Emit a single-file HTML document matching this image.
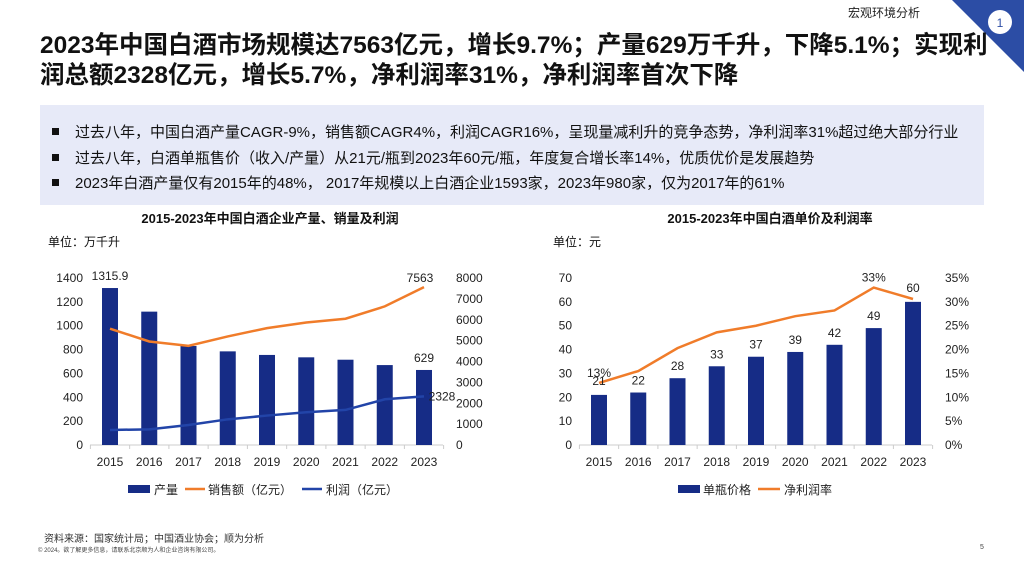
<!DOCTYPE html>
<html><head><meta charset="utf-8"><style>
body{margin:0;width:1024px;height:576px;background:#fff;font-family:"Liberation Sans","Noto Sans CJK SC",sans-serif;position:relative;overflow:hidden;color:#111}
.abs{position:absolute}
h1{position:absolute;left:40px;top:31px;margin:0;font-size:24.5px;line-height:30px;font-weight:bold;width:980px;color:#111;white-space:nowrap}
.box{left:40px;top:105px;width:944px;height:100px;background:#E7EAF8}
.box div{position:absolute;left:12px;font-size:15px;color:#111;white-space:nowrap}
.box span{display:inline-block;width:7px;height:7px;background:#111;margin-right:16px;vertical-align:2px}
</style></head><body>
<div class="abs" style="left:848px;top:4px;font-size:12px;color:#222">宏观环境分析</div>
<svg class="abs" style="left:950px;top:0" width="74" height="74"><polygon points="2,0 74,0 74,72" fill="#2C4DA5"/><circle cx="50" cy="22" r="12" fill="#fff"/><text x="50" y="27" font-size="12" text-anchor="middle" fill="#2C4DA5" font-family="Liberation Sans">1</text></svg>
<h1>2023年中国白酒市场规模达7563亿元，增长9.7%；产量629万千升，下降5.1%；实现利<br>润总额2328亿元，增长5.7%，净利润率31%，净利润率首次下降</h1>
<div class="abs box">
<div style="top:16px"><span></span>过去八年，中国白酒产量CAGR-9%，销售额CAGR4%，利润CAGR16%，呈现量减利升的竞争态势，净利润率31%超过绝大部分行业</div>
<div style="top:42px"><span></span>过去八年，白酒单瓶售价（收入/产量）从21元/瓶到2023年60元/瓶，年度复合增长率14%，优质优价是发展趋势</div>
<div style="top:67px"><span></span>2023年白酒产量仅有2015年的48%， 2017年规模以上白酒企业1593家，2023年980家，仅为2017年的61%</div>
</div>
<div class="abs" style="left:40px;top:208px;width:460px;text-align:center;font-size:13px;font-weight:bold">2015-2023年中国白酒企业产量、销量及利润</div>
<div class="abs" style="left:48px;top:233px;font-size:12px">单位：万千升</div>
<div class="abs" style="left:540px;top:208px;width:460px;text-align:center;font-size:13px;font-weight:bold">2015-2023年中国白酒单价及利润率</div>
<div class="abs" style="left:553px;top:233px;font-size:12px">单位：元</div>
<svg class="abs" id="c" style="left:0;top:0" width="1024" height="576"></svg>
<div class="abs" style="left:44px;top:530px;font-size:10px;color:#333">资料来源：国家统计局；中国酒业协会；顺为分析</div>
<div class="abs" style="left:38px;top:545px;font-size:6px;color:#444">© 2024。欲了解更多信息，请联系北京顺为人和企业咨询有限公司。</div>
<div class="abs" style="left:980px;top:544px;font-size:7px;color:#444">5</div>
<script>
const years=["2015","2016","2017","2018","2019","2020","2021","2022","2023"];
const production=[1315.9,1118,830,785,755,735,715,670,629];
const sales=[5570,4960,4750,5200,5600,5870,6050,6640,7563];
const profit=[720,750,960,1230,1410,1570,1680,2190,2328];
const leftTicks=[0,200,400,600,800,1000,1200,1400];
const rightTicks=[0,1000,2000,3000,4000,5000,6000,7000,8000];
const price=[21,22,28,33,37,39,42,49,60];
const margin=[13,15.5,20.3,23.6,25,27,28.2,33,30.6];
const priceTicks=[0,10,20,30,40,50,60,70];
const marginTicks=[0,5,10,15,20,25,30,35];
const svg=document.getElementById('c');const NS="http://www.w3.org/2000/svg";
function mk(t,a,name){const e=document.createElementNS(NS,t);for(const k in a)e.setAttribute(k,a[k]);


svg.appendChild(e);return e;}
function txt(x,y,s,anchor,name,size){const e=mk('text',{x:x,y:y,'font-size':size||12,'text-anchor':anchor||'middle',fill:'#222','font-family':'Liberation Sans, Noto Sans CJK SC, sans-serif'},name);e.textContent=s;return e;}
const Y0=445,H=167;
function chart(o){
 const xs=i=>o.x0+i*39.25;
 const yl=v=>Y0-v/o.lmax*H, yr=v=>Y0-v/o.rmax*H;
 o.lt.forEach(t=>txt(o.x0-27,yl(t)+4,o.lfmt(t),'end','left-tick'));
 o.rt.forEach(t=>txt(o.x0+346,yr(t)+4,o.rfmt(t),'start','right-tick'));
 mk('line',{x1:o.x0-20,x2:o.x0+333,y1:Y0,y2:Y0,stroke:'#ccc'},'x-axis');
 years.forEach((y,i)=>{txt(xs(i),466,y,'middle','x-tick');mk('line',{x1:xs(i)-19.6,x2:xs(i)-19.6,y1:Y0,y2:Y0+4,stroke:'#ccc'},'x-tick-mark');});
 mk('line',{x1:xs(8)+19.6,x2:xs(8)+19.6,y1:Y0,y2:Y0+4,stroke:'#ccc'},'x-tick-mark');
 o.bars.forEach((v,i)=>mk('rect',{x:xs(i)-8,y:yl(v),width:16,height:Y0-yl(v),fill:'#162C86'},'bar-'+years[i]));
 o.lines.forEach(L=>mk('polyline',{points:L.d.map((v,i)=>xs(i)+','+yr(v)).join(' '),fill:'none',stroke:L.c,'stroke-width':2.5},L.n));
 return {xs,yl,yr};
}
const A=chart({x0:110,lmax:1400,rmax:8000,lt:leftTicks,rt:rightTicks,lfmt:t=>t,rfmt:t=>t,bars:production,
 lines:[{d:sales,c:'#F07C2A',n:'sales-line'},{d:profit,c:'#2244A8',n:'profit-line'}]});
txt(A.xs(0),A.yl(production[0])-8,'1315.9','middle','label-production-2015');
txt(A.xs(8),A.yl(production[8])-8,'629','middle','label-production-2023');
txt(A.xs(8)-4,A.yr(sales[8])-5,'7563','middle','label-sales-2023');
txt(A.xs(8)+18,A.yr(profit[8])+4,'2328','middle','label-profit-2023');
const B=chart({x0:599,lmax:70,rmax:35,lt:priceTicks,rt:marginTicks,lfmt:t=>t,rfmt:t=>t+'%',bars:price,
 lines:[{d:margin,c:'#F07C2A',n:'margin-line'}]});
price.forEach((v,i)=>{ if(i<8) txt(B.xs(i),B.yl(v)-8+(i==0?-2:0),v,'middle','label-price'); });
txt(B.xs(8),B.yl(60)-10,'60','middle','label-price');
txt(B.xs(0),B.yr(margin[0])-6,'13%','middle','label-margin-2015');
txt(B.xs(7),B.yr(margin[7])-6,'33%','middle','label-margin-2022');
mk('rect',{x:128,y:485,width:22,height:8,fill:'#162C86'},'legend-production-swatch');txt(154,494,'产量','start','legend-production');
mk('line',{x1:185,x2:205,y1:489,y2:489,stroke:'#F07C2A','stroke-width':2.5},'legend-sales-swatch');txt(208,494,'销售额（亿元）','start','legend-sales');
mk('line',{x1:302,x2:322,y1:489,y2:489,stroke:'#2244A8','stroke-width':2.5},'legend-profit-swatch');txt(326,494,'利润（亿元）','start','legend-profit');
mk('rect',{x:678,y:485,width:22,height:8,fill:'#162C86'},'legend-price-swatch');txt(703,494,'单瓶价格','start','legend-price');
mk('line',{x1:758,x2:780,y1:489,y2:489,stroke:'#F07C2A','stroke-width':2.5},'legend-margin-swatch');txt(784,494,'净利润率','start','legend-margin');
</script>
</body></html>
